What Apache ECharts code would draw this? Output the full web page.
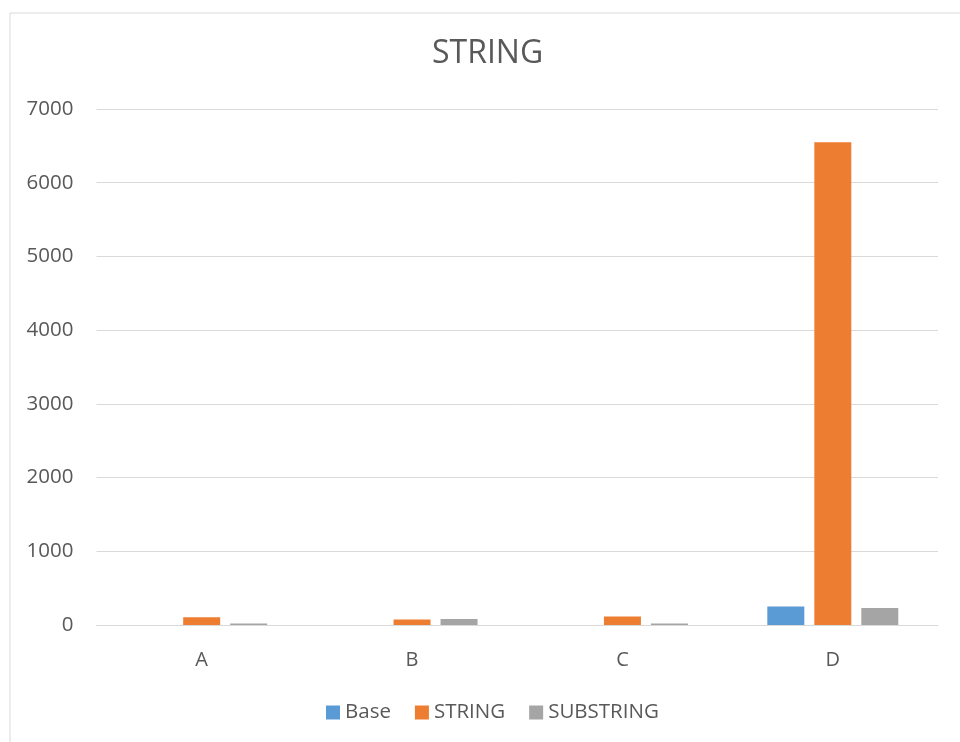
<!DOCTYPE html>
<html>
<head>
<meta charset="utf-8">
<script src="https://cdn.jsdelivr.net/npm/echarts@6/dist/echarts.min.js"></script>
<style>
  html, body { margin: 0; padding: 0; background: #ffffff; }
  #chart { width: 960px; height: 742px; }
</style>
</head>
<body>
<div id="chart"></div>
<script>
// Categories and per-series values
const categories = ['A', 'B', 'C', 'D'];
const baseValues = [0, 0, 0, 250];
const stringValues = [105, 75, 115, 6550];
const substringValues = [20, 80, 20, 230];
const yTicks = { min: 0, max: 7000, interval: 1000 };

const textColor = '#595959';
const gridColor = '#D9D9D9';
const fontFamily = '"Open Sans", "Noto Sans", sans-serif';

const chart = echarts.init(document.getElementById('chart'), null, { renderer: 'canvas' });

chart.setOption({
  backgroundColor: '#ffffff',
  animation: false,
  graphic: [{
    type: 'rect',
    left: 7.5,
    top: 10.5,
    shape: { width: 980, height: 760 },
    style: { fill: 'none', stroke: gridColor, lineWidth: 1 },
    silent: true
  }],
  title: {
    text: 'STRING',
    left: 427,
    top: 33,
    textStyle: { color: textColor, fontFamily: fontFamily, fontSize: 32, fontWeight: 'normal' }
  },
  legend: {
    bottom: 14,
    left: 321,
    itemWidth: 14,
    itemHeight: 14,
    itemGap: 24,
    icon: 'rect',
    textStyle: { color: textColor, fontFamily: fontFamily, fontSize: 20.5 },
    data: ['Base', 'STRING', 'SUBSTRING']
  },
  grid: { left: 96.5, right: 22, top: 109, bottom: 117, containLabel: false },
  xAxis: {
    type: 'category',
    data: categories,
    axisLine: { show: true, lineStyle: { color: gridColor, width: 1 } },
    axisTick: { show: false },
    axisLabel: { color: textColor, fontFamily: fontFamily, fontSize: 20, margin: 25 }
  },
  yAxis: {
    type: 'value',
    min: yTicks.min,
    max: yTicks.max,
    interval: yTicks.interval,
    axisLine: { show: false },
    axisTick: { show: false },
    splitLine: { lineStyle: { color: gridColor, width: 1 } },
    axisLabel: {
      color: textColor, fontFamily: fontFamily, fontSize: 20.5, margin: 23,
      formatter: (v) => String(v)
    }
  },
  series: [
    { name: 'Base', type: 'bar', data: baseValues, barWidth: 37, barGap: '27%',
      itemStyle: { color: '#5B9BD5' } },
    { name: 'STRING', type: 'bar', data: stringValues, barWidth: 37, barGap: '27%',
      itemStyle: { color: '#ED7D31' } },
    { name: 'SUBSTRING', type: 'bar', data: substringValues, barWidth: 37, barGap: '27%',
      itemStyle: { color: '#A5A5A5' } }
  ]
});
</script>
</body>
</html>
